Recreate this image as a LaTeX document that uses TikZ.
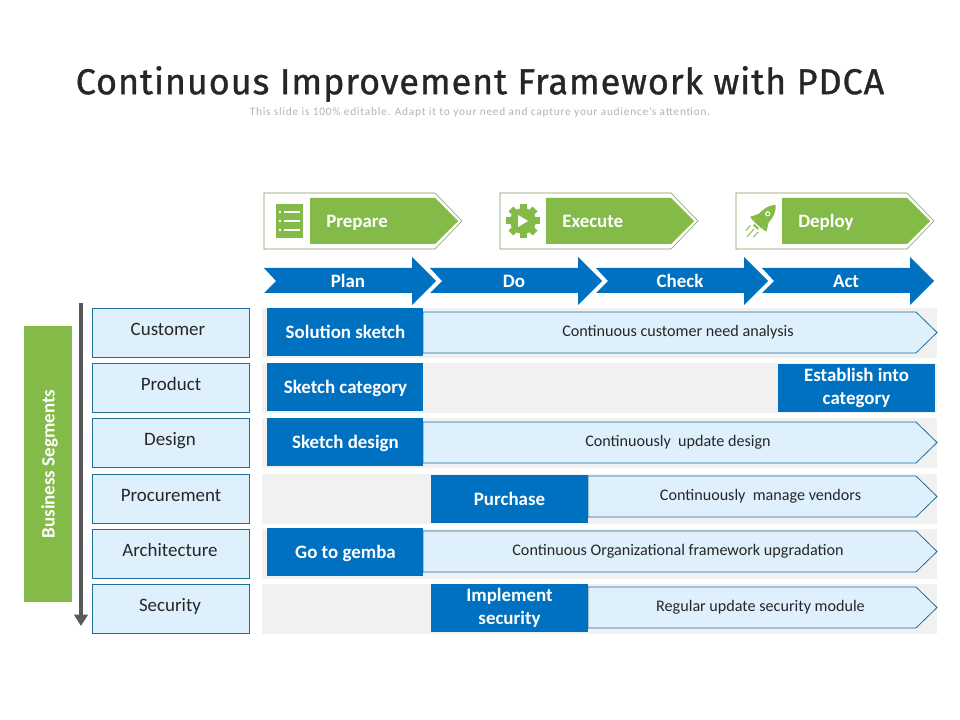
\documentclass[tikz,border=0pt]{standalone}
\usepackage{fontspec}
\setmainfont{Carlito}
\newfontfamily\titlefont[LetterSpace=2.5,FakeBold=0.9]{Fira Sans}
\usetikzlibrary{arrows.meta}
\definecolor{leafgreen}{HTML}{84BA48}
\definecolor{deepblue}{HTML}{0070C0}
\definecolor{paleblue}{HTML}{DEF0FC}
\definecolor{edgeblue}{HTML}{1F6F98}
\definecolor{bandgray}{HTML}{F1F1F1}
\definecolor{inkgray}{HTML}{262626}
\tikzset{
    whitelabel/.style={text=white,font=\bfseries\fontsize{14.2}{17}\selectfont,align=center,inner sep=0pt,execute at begin node=\strut,execute at end node=\strut},
    darklabel/.style={text=inkgray,font=\fontsize{14.2}{15}\selectfont,inner sep=0pt,execute at begin node=\strut},
    smalllabel/.style={text=inkgray,font=\fontsize{12.1}{13}\selectfont,inner sep=0pt,execute at begin node=\strut},
}
\begin{document}
\begin{tikzpicture}[x=0.75pt,y=-0.75pt]
    \path[use as bounding box] (0,0) rectangle (960,720);

    \node[text=inkgray,font=\titlefont\fontsize{27}{32}\selectfont] (title) at (480,84) {Continuous Improvement Framework with PDCA};
    \node[text=black!30,font=\fontsize{8.5}{10}\selectfont] (subtitle) at (480,112) {\addfontfeature{LetterSpace=6.9}This slide is 100\% editable. Adapt it to your need and capture your audience's attention.};

    % phases
    \foreach[count=\i] \x/\t in {264/Prepare,500/Execute,736/Deploy} {
        \draw[leafgreen!70!black!80,fill=white,thin] (\x,193) -- (\x+171,193) -- (\x+198,221) -- (\x+171,249) -- (\x,249) -- cycle;
        \fill[leafgreen] (\x+46,198) -- (\x+171,198) -- (\x+194,221) -- (\x+171,244) -- (\x+46,244) -- cycle;
        \node[whitelabel,anchor=west] (phase\i) at (\x+62,223) {\t};
    }

    % list icon
    \fill[leafgreen] (276,204) rectangle (303,238);
    \foreach \y in {212,221,230} {
        \fill[white] (280,\y) circle (1.4);
        \draw[white,line width=0.9pt] (284,\y) -- (300,\y);
    }

    % gear icon
    \fill[leafgreen] (523,221) circle (13);
    \foreach \a in {0,45,...,315} {
        \fill[leafgreen,rotate around={\a:(523,221)}] (519.5,204) rectangle (526.5,212);
    }
    \fill[white] (518,215) -- (528,221) -- (518,227) -- cycle;

    % rocket icon
    \begin{scope}[shift={(763,219)},rotate=-42]
        \fill[leafgreen] (0,-19) .. controls (8,-11) and (7,0) .. (5.5,8) -- (-5.5,8) .. controls (-7,0) and (-8,-11) .. (0,-19) -- cycle;
        \fill[leafgreen] (-6,-2) -- (-11,7) -- (-6,8) -- cycle;
        \fill[leafgreen] (6,-2) -- (11,7) -- (6,8) -- cycle;
        \fill[leafgreen] (-3,9.5) rectangle (3,11.5);
        \fill[white] (0,-7) circle (2.6);
        \fill[leafgreen] (0,-7) circle (1.5);
        \draw[leafgreen,line width=0.7pt] (-5,13) -- (-5,20);
        \draw[leafgreen,line width=0.7pt] (0,13.5) -- (0,24);
        \draw[leafgreen,line width=0.7pt] (5,13) -- (5,20);
    \end{scope}

    % pdca arrows
    \foreach[count=\i] \x/\t in {264/Plan,430/Do,596/Check,762/Act} {
        \fill[deepblue] (\x,268) -- (\x+148,268) -- (\x+148,257) -- (\x+172,281) -- (\x+148,305) -- (\x+148,293) -- (\x,293) -- (\x+12,281) -- cycle;
        \node[whitelabel] (step\i) at (\x+84,283) {\t};
    }

    % rows
    \foreach[count=\i] \ya/\x/\t in {308/168/Customer,363/171/Product,418/170/Design,474/171/Procurement,529/170/Architecture,584/170/Security} {
        \fill[bandgray] (262,\ya) rectangle (937,\ya+50);
        \draw[edgeblue,fill=paleblue,line width=0.6pt] (92,\ya) rectangle (249.5,\ya+49.5);
        \node[darklabel] (segment\i) at (\x,\ya+23.5) {\t};
    }

    % running activities
    \foreach[count=\i] \x/\ya/\t in {
        423/312/Continuous customer need analysis,
        423/422/Continuously\ \ update design,
        588/476/Continuously\ \ manage vendors,
        423/531/Continuous Organizational framework upgradation,
        588/587/Regular update security module} {
        \draw[edgeblue,fill=paleblue,line width=0.6pt] (\x,\ya) -- (916,\ya) -- (937,\ya+20.5) -- (916,\ya+41) -- (\x,\ya+41) -- cycle;
        \node[smalllabel] (activity\i) at ({(\x+933)/2},\ya+21) {\t};
    }

    % first activities
    \foreach[count=\i] \x/\w/\ya/\t in {
        267/156/308/Solution sketch,
        267/156/363/Sketch category,
        267/156/418/Sketch design,
        431/157/475/Purchase,
        267/156/528/Go to gemba,
        431/157/584/{Implement\\security},
        778/157/364/{Establish into\\category}} {
        \fill[deepblue] (\x,\ya) rectangle (\x+\w,\ya+48);
        \node[whitelabel] (start\i) at (\x+78.5,\ya+26) {\t};
    }

    % side bar
    \fill[leafgreen] (24,326) rectangle (72,602);
    \node[whitelabel,rotate=90] (segments) at (50,464) {Business Segments};
    \coordinate (axistop) at (81,303);
    \coordinate (axisend) at (81,626);
    \draw[line width=2.3pt,black!65,-{Triangle[length=8.5pt,width=10pt]}] (axistop) -- (axisend);
\end{tikzpicture}
\end{document}
